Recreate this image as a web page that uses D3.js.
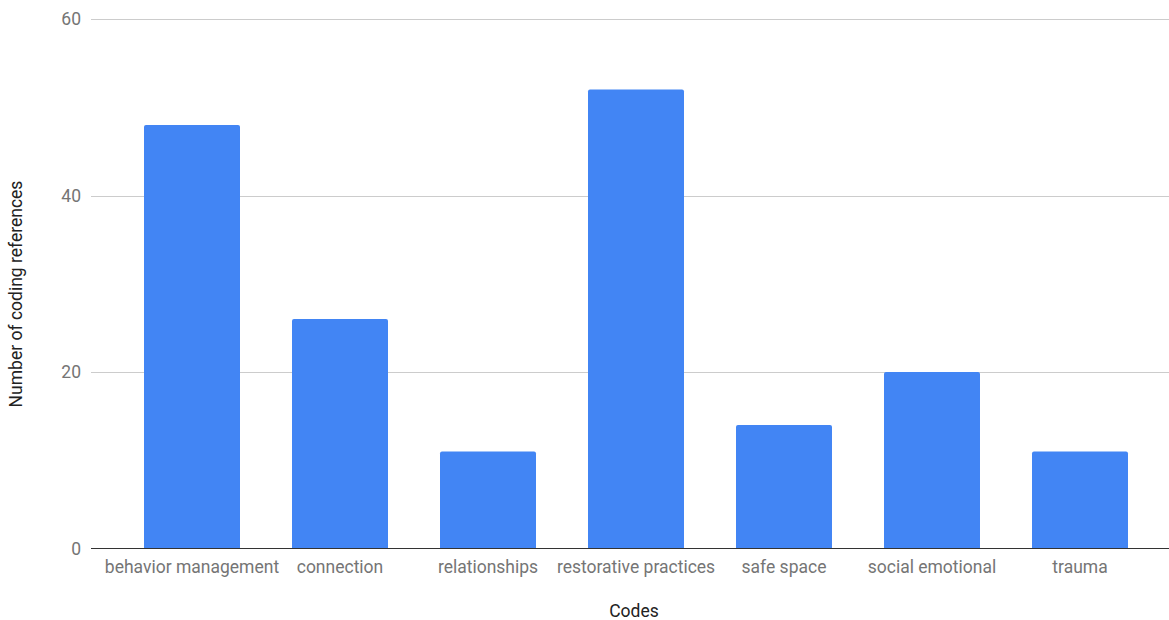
<!DOCTYPE html>
<html><head><meta charset="utf-8">
<script src="https://cdn.jsdelivr.net/npm/d3@7"></script>
<style>body{margin:0;background:#fff;}svg{display:block;font-family:Roboto,"Noto Sans",sans-serif;}</style>
</head><body>
<svg id="c" width="1169" height="620"></svg>
<script>
const categories = ["behavior management","connection","relationships","restorative practices","safe space","social emotional","trauma"];
const values = [48, 26, 11, 52, 14, 20, 11];
const yTicks = [0, 20, 40, 60];
const xTitle = "Codes";
const yTitle = "Number of coding references";

(function(){
const svg = d3.select("#c");
const fs = 17.5;
const mLeft = 91, mRight = 1169, mTop = 19, mBottom = 548.5;
const x = d3.scaleBand().domain(categories).range([92, 1180]).paddingInner(0.3514).paddingOuter(0.3514);
const y = d3.scaleLinear().domain([0, 60]).range([mBottom, mTop]);

svg.append("g").selectAll("line").data(yTicks.filter(d=>d!==0)).join("line")
  .attr("x1", mLeft).attr("x2", mRight)
  .attr("y1", d=>Math.round(y(d))+0.5).attr("y2", d=>Math.round(y(d))+0.5)
  .attr("stroke", "#cccccc").attr("stroke-width", 1);

svg.append("g").selectAll("text").data(yTicks).join("text")
  .attr("x", 81).attr("y", d=>y(d)).attr("dy", "0.35em")
  .attr("text-anchor", "end").attr("font-size", fs).attr("fill", "#757575")
  .text(d=>d);

const r = 2;
svg.append("g").selectAll("path").data(categories).join("path")
  .attr("d", (c,i)=>{
    const x0 = x(c), w = x.bandwidth(), y0 = y(values[i]), yb = y(0);
    return `M${x0},${yb}V${y0+r}Q${x0},${y0} ${x0+r},${y0}H${x0+w-r}Q${x0+w},${y0} ${x0+w},${y0+r}V${yb}Z`;
  })
  .attr("fill", "#4285f4");

svg.append("line").attr("x1", mLeft).attr("x2", mRight).attr("y1", mBottom).attr("y2", mBottom)
  .attr("stroke", "#333333").attr("stroke-width", 1.2);

svg.append("g").selectAll("text").data(categories).join("text")
  .attr("x", c=>x(c)+x.bandwidth()/2).attr("y", 573)
  .attr("text-anchor", "middle").attr("font-size", fs).attr("fill", "#757575")
  .text(c=>c);

svg.append("text").attr("x", 634).attr("y", 617).attr("text-anchor", "middle")
  .attr("font-size", fs).attr("fill", "#222222").text(xTitle);
svg.append("text").attr("transform", "translate(22,294) rotate(-90)").attr("text-anchor", "middle")
  .attr("font-size", fs).attr("fill", "#222222").text(yTitle);
})();
</script>
</body></html>
